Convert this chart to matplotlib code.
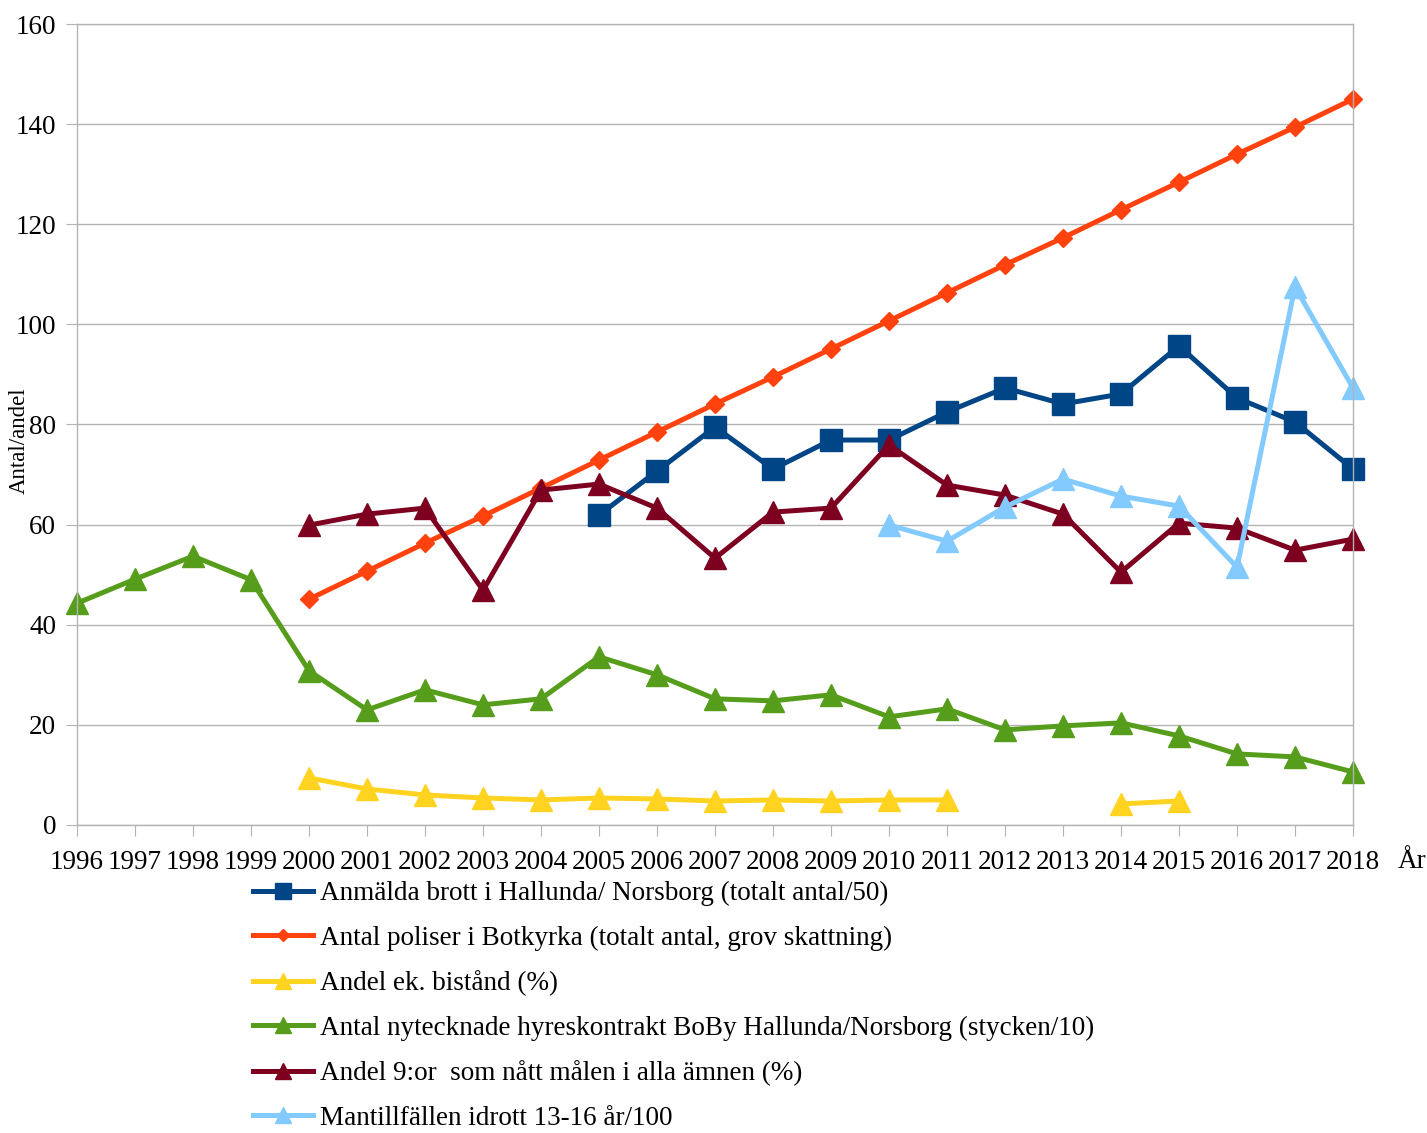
import matplotlib.pyplot as plt
import numpy as np

plt.rcParams['font.family'] = ['Liberation Serif', 'DejaVu Serif']

# data
years = list(range(1996, 2019))

brott_years = list(range(2005, 2019))
brott = [61.9, 70.7, 79.5, 71.1, 76.9, 76.9, 82.5, 87.3, 84.1, 86.1, 95.7, 85.3, 80.5, 71.1]

poliser_years = list(range(2000, 2019))
poliser = [45.1, 50.7, 56.3, 61.7, 67.3, 72.9, 78.5, 84.1, 89.5, 95.1, 100.7, 106.3,
           111.9, 117.3, 122.9, 128.4, 134.0, 139.4, 145.0]

bistand_years = list(range(2000, 2019))
bistand = [9.4, 7.2, 6.0, 5.4, 5.0, 5.4, 5.2, 4.8, 5.0, 4.8, 5.0, 5.0,
           np.nan, np.nan, 4.2, 4.8, np.nan, np.nan, np.nan]

kontrakt_years = years
kontrakt = [44.3, 49.1, 53.7, 49.0, 30.8, 23.0, 27.0, 24.0, 25.2, 33.6, 30.0, 25.2,
            24.8, 26.0, 21.6, 23.2, 19.0, 19.8, 20.4, 17.8, 14.2, 13.6, 10.6]

nior_years = list(range(2000, 2019))
nior = [59.9, 62.1, 63.3, 46.9, 66.9, 68.1, 63.3, 53.3, 62.5, 63.3, 75.9, 67.9,
        65.9, 62.1, 50.5, 60.3, 59.3, 54.9, 57.1]

idrott_years = list(range(2010, 2019))
idrott = [59.9, 56.7, 63.5, 69.1, 65.7, 63.7, 51.5, 107.5, 87.3]

labels = [
    "Anmälda brott i Hallunda/ Norsborg (totalt antal/50)",
    "Antal poliser i Botkyrka (totalt antal, grov skattning)",
    "Andel ek. bistånd (%)",
    "Antal nytecknade hyreskontrakt BoBy Hallunda/Norsborg (stycken/10)",
    "Andel 9:or  som nått målen i alla ämnen (%)",
    "Mantillfällen idrott 13-16 år/100",
]

font_size = 19.5
lw = 3.6

fig = plt.figure(figsize=(14.27, 11.33), dpi=100)
ax = fig.add_axes([77 / 1427, 1 - 825 / 1133, (1353 - 77) / 1427, (825 - 24) / 1133])

ax.plot(brott_years, brott, color='#004586', linewidth=lw, marker='s', markersize=15.5, label=labels[0])
ax.plot(poliser_years, poliser, color='#ff420e', linewidth=lw, marker='D', markersize=9, label=labels[1])
ax.plot(bistand_years, bistand, color='#ffd320', linewidth=lw, marker='^', markersize=16, label=labels[2])
ax.plot(kontrakt_years, kontrakt, color='#579d1c', linewidth=lw, marker='^', markersize=16, label=labels[3])
ax.plot(nior_years, nior, color='#7e0021', linewidth=lw, marker='^', markersize=16, label=labels[4])
ax.plot(idrott_years, idrott, color='#83caff', linewidth=lw, marker='^', markersize=16, label=labels[5])

ax.set_xlim(1996, 2018)
ax.set_ylim(0, 160)
ax.set_xticks(years)
ax.set_xticklabels([str(y) for y in years], fontsize=font_size)
ax.set_yticks(range(0, 161, 20))
ax.tick_params(axis='y', labelsize=font_size, length=8, color='#b3b3b3', pad=7)
ax.tick_params(axis='x', length=8, color='#b3b3b3', pad=10)
ax.grid(axis='y', color='#b3b3b3', linewidth=1)
ax.set_axisbelow(True)
for s in ax.spines.values():
    s.set_color('#b3b3b3')
    s.set_linewidth(1)

ax.set_ylabel("Antal/andel", fontsize=16.5)
ax.yaxis.set_label_coords(-0.037, 0.48)
fig.text(1398 / 1427, 1 - 862 / 1133, "År", fontsize=font_size, va='center', ha='left')

for line in ax.get_lines():
    line.set_clip_on(False)

fig.legend(loc='upper left', bbox_to_anchor=(253 / 1427, 1 - 881 / 1133), frameon=False,
           fontsize=font_size, handlelength=2.2, handletextpad=0.26, labelspacing=0.72,
           markerscale=0.7, borderaxespad=0, borderpad=0)

plt.savefig('out.png', dpi=100)
